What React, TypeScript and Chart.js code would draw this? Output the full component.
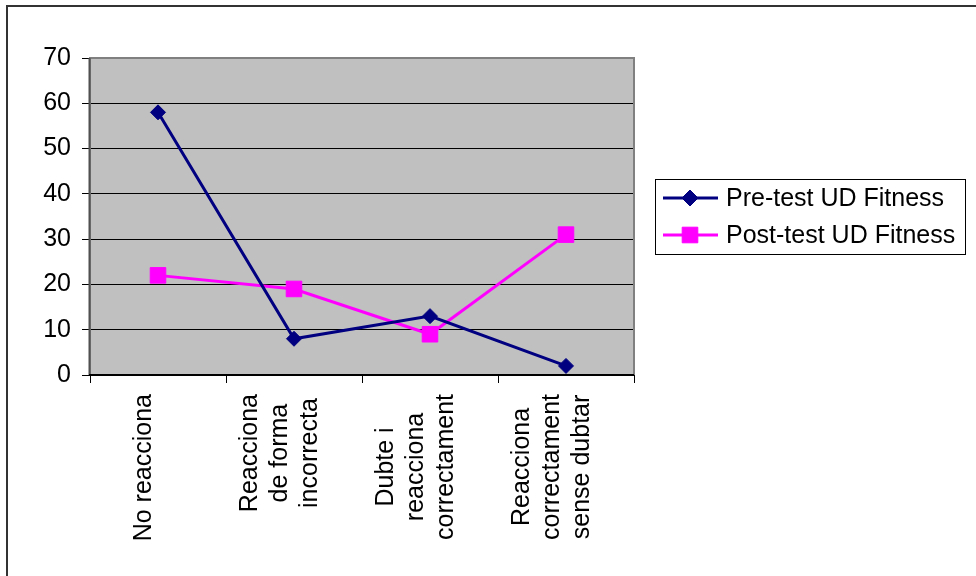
import React, { useEffect, useRef } from 'react';
import { Chart, registerables } from 'chart.js';

Chart.register(...registerables);

// Category labels, one entry per wrapped line
const categoryLines: string[][] = [
  ['No reacciona'],
  ['Reacciona', 'de forma', 'incorrecta'],
  ['Dubte i', 'reacciona', 'correctament'],
  ['Reacciona', 'correctament', 'sense dubtar'],
];
const preTest = [58, 8, 13, 2];
const postTest = [22, 19, 9, 31];
const seriesNames = ['Pre-test UD Fitness', 'Post-test UD Fitness'];
const yMin = 0;
const yMax = 70;
const yStep = 10;

const FONT = '"Liberation Sans", Arial, Helvetica, sans-serif';
const FONT_SIZE = 25;
const NAVY = '#000080';
const MAGENTA = '#FF00FF';

function drawMarker(ctx: CanvasRenderingContext2D, style: string, x: number, y: number, color: string) {
  ctx.save();
  ctx.fillStyle = color;
  ctx.strokeStyle = color;
  ctx.lineWidth = 1;
  ctx.beginPath();
  if (style === 'rectRot') {
    const r = 8;
    ctx.moveTo(x, y - r);
    ctx.lineTo(x + r, y);
    ctx.lineTo(x, y + r);
    ctx.lineTo(x - r, y);
    ctx.closePath();
  } else {
    const s = 7.8;
    ctx.rect(x - s, y - s, 2 * s, 2 * s);
  }
  ctx.fill();
  ctx.stroke();
  ctx.restore();
}

// Page frame, grey plot background and plot-area border
const plotFrame = {
  id: 'plotFrame',
  beforeDraw(chart: any) {
    const { ctx, chartArea: a } = chart;
    ctx.save();
    ctx.fillStyle = '#FFFFFF';
    ctx.fillRect(0, 0, chart.width, chart.height);
    ctx.fillStyle = '#C0C0C0';
    ctx.fillRect(a.left, a.top, a.right - a.left, a.bottom - a.top);
    ctx.strokeStyle = '#333333';
    ctx.lineWidth = 2;
    ctx.beginPath();
    ctx.moveTo(7, chart.height);
    ctx.lineTo(7, 6);
    ctx.lineTo(chart.width, 6);
    ctx.stroke();
    ctx.restore();
  },
  beforeDatasetsDraw(chart: any) {
    const { ctx, chartArea: a } = chart;
    ctx.save();
    ctx.strokeStyle = '#808080';
    ctx.lineWidth = 2;
    ctx.beginPath();
    ctx.moveTo(a.left, a.bottom);
    ctx.lineTo(a.left, a.top);
    ctx.lineTo(a.right, a.top);
    ctx.lineTo(a.right, a.bottom);
    ctx.stroke();
    ctx.strokeStyle = '#505050';
    ctx.beginPath();
    ctx.moveTo(a.left - 0.5, a.bottom);
    ctx.lineTo(a.left - 0.5, a.top);
    ctx.stroke();
    ctx.strokeStyle = '#000000';
    ctx.beginPath();
    ctx.moveTo(a.left - 1, a.bottom);
    ctx.lineTo(a.right, a.bottom);
    ctx.stroke();
    ctx.restore();
  },
};

// Rotated, centred multi-line category labels
const categoryLabels = {
  id: 'categoryLabels',
  afterDraw(chart: any) {
    const { ctx } = chart;
    const xs = chart.scales.x;
    const lineH = 30;
    ctx.save();
    ctx.font = `${FONT_SIZE}px ${FONT}`;
    ctx.fillStyle = '#000000';
    ctx.textAlign = 'center';
    ctx.textBaseline = 'middle';
    categoryLines.forEach((lines, i) => {
      const cx = xs.getPixelForValue(i) - 14;
      const maxW = Math.max(...lines.map((l) => ctx.measureText(l).width));
      const cy = xs.top + 19 + maxW / 2;
      ctx.save();
      ctx.translate(cx, cy);
      ctx.rotate(-Math.PI / 2);
      lines.forEach((l, j) => {
        ctx.fillText(l, 0, (j - (lines.length - 1) / 2) * lineH);
      });
      ctx.restore();
    });
    ctx.restore();
  },
};

// Boxed legend to the right of the plot
const sideLegend = {
  id: 'sideLegend',
  afterDraw(chart: any) {
    const { ctx } = chart;
    const left = 655;
    const top = 179;
    const w = 310;
    const h = 75;
    ctx.save();
    ctx.strokeStyle = '#000000';
    ctx.lineWidth = 1;
    ctx.strokeRect(left + 0.5, top + 0.5, w, h);
    ctx.font = `${FONT_SIZE}px ${FONT}`;
    ctx.textAlign = 'left';
    ctx.textBaseline = 'middle';
    chart.data.datasets.forEach((ds: any, i: number) => {
      const y = top + 19 + i * 37;
      ctx.strokeStyle = ds.borderColor;
      ctx.lineWidth = 3;
      ctx.beginPath();
      ctx.moveTo(left + 8, y);
      ctx.lineTo(left + 63, y);
      ctx.stroke();
      drawMarker(ctx, ds.pointStyle, left + 35, y, ds.borderColor);
      ctx.fillStyle = '#000000';
      ctx.fillText(ds.label, left + 71, y + 1);
    });
    ctx.restore();
  },
};

export default function App() {
  const canvasRef = useRef<HTMLCanvasElement | null>(null);

  useEffect(() => {
    const canvas = canvasRef.current;
    if (!canvas) return;
    const chart = new Chart(canvas, {
      type: 'line',
      data: {
        labels: categoryLines.map((l) => l.join(' ')),
        datasets: [
          {
            label: seriesNames[0],
            data: preTest,
            borderColor: NAVY,
            backgroundColor: NAVY,
            borderWidth: 3,
            pointStyle: 'rectRot',
            pointRadius: 7.5,
            pointBorderWidth: 1,
            tension: 0,
            clip: false as any,
          },
          {
            label: seriesNames[1],
            data: postTest,
            borderColor: MAGENTA,
            backgroundColor: MAGENTA,
            borderWidth: 3,
            pointStyle: 'rect',
            pointRadius: 11,
            pointBorderWidth: 1,
            tension: 0,
            clip: false as any,
          },
        ],
      },
      options: {
        responsive: false,
        animation: false,
        events: [],
        layout: { padding: { left: 0, right: 342, top: 58, bottom: 0 } },
        plugins: {
          legend: { display: false },
          tooltip: { enabled: false },
        },
        scales: {
          x: {
            type: 'category',
            offset: true,
            grid: {
              display: true,
              offset: true,
              drawOnChartArea: false,
              drawTicks: true,
              tickLength: 8,
              color: '#000000',
              lineWidth: 1,
            },
            border: { display: false },
            ticks: { autoSkip: false, maxRotation: 0, callback: () => '' },
            afterFit: (s: any) => {
              s.height = 201;
            },
          },
          y: {
            min: yMin,
            max: yMax,
            ticks: {
              stepSize: yStep,
              color: '#000000',
              padding: 11,
              font: { family: FONT, size: FONT_SIZE },
            },
            grid: {
              color: (c: any) => (c.tick && c.tick.value === yMax ? '#808080' : '#000000'),
              tickColor: '#000000',
              tickLength: 8,
              lineWidth: 1,
            },
            border: { display: false },
            afterFit: (s: any) => {
              s.width = 90;
            },
          },
        },
      },
      plugins: [plotFrame, categoryLabels, sideLegend],
    });
    return () => chart.destroy();
  }, []);

  return (
    <div style={{ position: 'fixed', left: 0, top: 0, width: 976, height: 576, background: '#fff' }}>
      <canvas ref={canvasRef} width={976} height={576} style={{ display: 'block', width: 976, height: 576 }} />
    </div>
  );
}
